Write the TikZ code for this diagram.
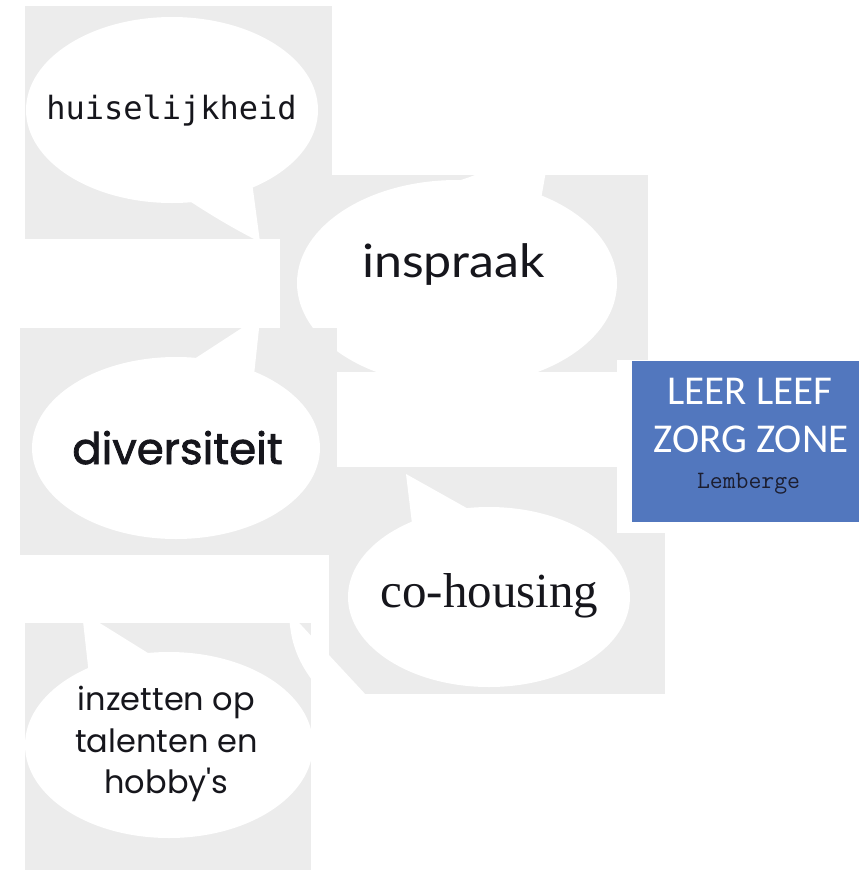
\documentclass[tikz,border=0pt]{standalone}
\usepackage{fontspec}
\newfontfamily\huisfont{DejaVu Sans Mono}
\newfontfamily\inspfont{Lato}
\newfontfamily\divfont{Poppins}[FakeBold=1.8]
\newfontfamily\popfont{Poppins}
\newfontfamily\cohfont{Liberation Serif}
\newfontfamily\leerfont{Carlito}
\definecolor{boxgray}{RGB}{236,236,236}
\definecolor{leerblue}{RGB}{82,119,190}
\definecolor{inktext}{RGB}{22,22,28}
\definecolor{lembink}{RGB}{28,30,48}
\tikzset{
  panel/.style={fill=boxgray},
  bubble/.style={fill=white},
  word/.style={anchor=base, inner sep=0pt, text=inktext},
}
\begin{document}
\begin{tikzpicture}[x=1pt,y=-1pt]
\useasboundingbox (0,0) rectangle (859,871);
% ---- panel 1: huiselijkheid
\fill[panel] (25,6) rectangle (332,239);
\begin{scope}
\clip (25,6) rectangle (332,239);
\fill[bubble] (172,110) ellipse [x radius=146pt, y radius=93pt];
\fill[bubble] (185,198) .. controls (215,218) and (240,232) .. (260,242) -- (252,182) -- cycle;
\end{scope}
% ---- panel 2: inspraak
\fill[panel] (280,175) rectangle (648,372);
\begin{scope}
\clip (280,175) rectangle (648,372);
\fill[bubble] (457,283) ellipse [x radius=160pt, y radius=103pt];
\fill[bubble] (440,186) .. controls (458,181) and (472,177) .. (484,171) -- (546,171) -- (540,205) -- cycle;
\end{scope}
% ---- panel 3: diversiteit
\fill[panel] (20,328) rectangle (337,555);
\begin{scope}
\clip (20,328) rectangle (337,555);
\fill[bubble] (176,448) ellipse [x radius=144pt, y radius=91pt];
\fill[bubble] (185,365) -- (248,324) -- (259.5,324) -- (253.5,380) -- cycle;
\end{scope}
% ---- panel 4: co-housing
\fill[panel] (329,467) rectangle (665,694);
\begin{scope}
\clip (329,467) rectangle (665,694);
\fill[bubble] (489,597) ellipse [x radius=141pt, y radius=90pt];
\fill[bubble] (406,474) -- (472,511) -- (413,532) -- cycle;
\end{scope}
% ---- panel 5: inzetten
\fill[panel] (25,623) rectangle (311,870);
\begin{scope}
\clip (25,623) rectangle (311,870);
\fill[bubble] (169,745) ellipse [x radius=144pt, y radius=93pt];
\fill[bubble] (82,612) -- (89,675) -- (156,658) -- cycle;
\end{scope}
% ---- stray tail over panels 4 and 5
\begin{scope}
\clip (25,555) rectangle (665,694);
\fill[bubble] (289,612) .. controls (290,640) and (296,662) .. (320,690) -- (340,710) -- (380,710) -- cycle;
\end{scope}
% ---- logo
\fill[white] (617,360) rectangle (859,533);
\fill[leerblue] (632,361) rectangle (859,522);
% ---- texts
\node[word, font=\huisfont\fontsize{32}{38}\selectfont] (huis) at (171.5,119) {huiselijkheid};
\node[word, font=\inspfont\fontsize{46}{54}\selectfont] (insp) at (453.5,277) {\scalebox{1.09}[1]{inspraak}};
\node[word, font=\divfont\fontsize{43.5}{52}\selectfont] (div) at (177.5,464) {diversiteit};
\node[word, font=\cohfont\fontsize{49}{56}\selectfont] (coh) at (489.5,607) {co-housing};
\node[word, font=\popfont\fontsize{32}{40}\selectfont] (inz1) at (166.5,710) {inzetten op};
\node[word, font=\popfont\fontsize{32}{40}\selectfont] (inz2) at (166.5,752) {talenten en};
\node[word, font=\popfont\fontsize{32}{40}\selectfont] (inz3) at (166.5,793) {hobby's};
\node[word, text=white, font=\leerfont\fontsize{41}{48}\selectfont] (leer) at (750,404) {LEER LEEF};
\node[word, text=white, font=\leerfont\fontsize{41}{48}\selectfont] (zorg) at (751,452) {ZORG ZONE};
\node[word, text=lembink, font=\ttfamily\addfontfeature{FakeBold=1}\fontsize{25}{30}\selectfont] (lemb) at (748.5,488) {Lemberge};
\end{tikzpicture}
\end{document}
